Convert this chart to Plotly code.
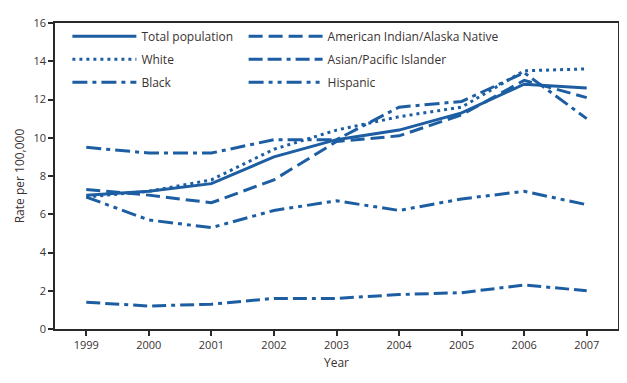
import plotly.graph_objects as go

years = [1999, 2000, 2001, 2002, 2003, 2004, 2005, 2006, 2007]
total = [7.0, 7.2, 7.6, 9.0, 9.9, 10.4, 11.3, 12.8, 12.6]
white = [6.9, 7.2, 7.8, 9.4, 10.4, 11.1, 11.6, 13.5, 13.6]
black = [9.5, 9.2, 9.2, 9.9, 9.9, 11.6, 11.9, 13.4, 11.0]
aian = [7.3, 7.0, 6.6, 7.8, 9.8, 10.1, 11.2, 13.0, 12.1]
asian = [1.4, 1.2, 1.3, 1.6, 1.6, 1.8, 1.9, 2.3, 2.0]
hispanic = [6.9, 5.7, 5.3, 6.2, 6.7, 6.2, 6.8, 7.2, 6.5]
y_ticks = [0, 2, 4, 6, 8, 10, 12, 14, 16]

BLUE = "#1d5ea3"
TXT = "#3a3232"
FONT = "Open Sans"

series = [
    ("Total population", total, "solid", "legend"),
    ("White", white, "3px,4px", "legend"),
    ("Black", black, "15px,5px,4px,5px", "legend"),
    ("American Indian/Alaska Native", aian, "14px,6px", "legend2"),
    ("Asian/Pacific Islander", asian, "14px,5px,14px,5px,4px,5px", "legend2"),
    ("Hispanic", hispanic, "15px,5px,4px,5px,4px,5px", "legend2"),
]

fig = go.Figure()
for i, (name, vals, dash, lg) in enumerate(series):
    fig.add_trace(go.Scatter(
        x=years, y=vals, name=name, mode="lines",
        line=dict(color=BLUE, width=3, dash=dash),
        legend=lg, legendgroup=f"g{i}",
    ))

legend_common = dict(
    font=dict(family=FONT, size=12, color=TXT),
    bgcolor="rgba(0,0,0,0)", yanchor="top", xanchor="left",
    tracegroupgap=4, traceorder="grouped",
)

fig.update_layout(
    width=619, height=375,
    margin=dict(l=47, r=7, t=10, b=54),
    paper_bgcolor="white", plot_bgcolor="white",
    font=dict(family=FONT, size=11, color=TXT),
    legend=dict(x=0.022, y=1.004, itemwidth=64, **legend_common),
    legend2=dict(x=0.335, y=1.004, itemwidth=74, **legend_common),
    xaxis=dict(
        range=[1998.5, 2007.5], tickvals=years, ticktext=[str(y) for y in years],
        showgrid=False, zeroline=False, showline=True, linecolor="#2a2a2a", linewidth=1.5,
        mirror=True, ticks="outside", ticklen=5, tickwidth=2, tickcolor="#2a2a2a",
        title=dict(text="Year", font=dict(family=FONT, size=12, color=TXT), standoff=8),
        tickfont=dict(family=FONT, size=11, color=TXT),
    ),
    yaxis=dict(
        range=[0, 16], tickvals=y_ticks,
        showgrid=False, zeroline=False, showline=True, linecolor="#2a2a2a", linewidth=1.5,
        mirror=True, ticks="outside", ticklen=5, tickwidth=1.5, tickcolor="#2a2a2a",
        title=dict(text="Rate per 100,000", font=dict(family=FONT, size=12, color=TXT), standoff=6),
        tickfont=dict(family=FONT, size=11, color=TXT),
    ),
)

fig.write_html("out.html")
